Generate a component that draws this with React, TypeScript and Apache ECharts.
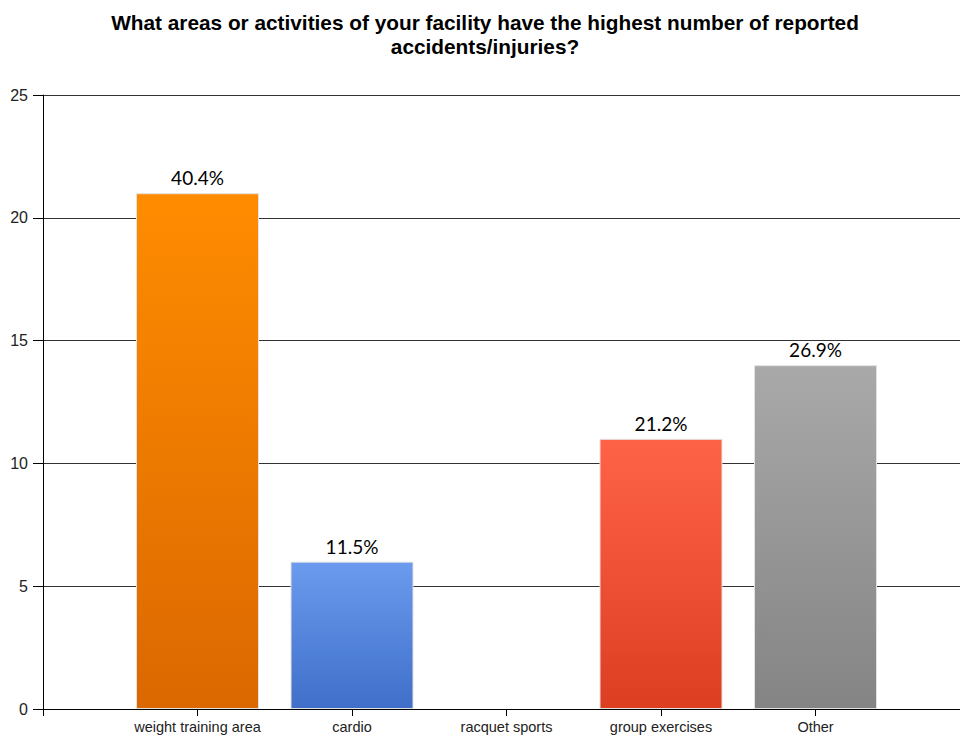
import React, { useEffect, useRef } from "react";
import * as echarts from "echarts";

const titleText =
  "What areas or activities of your facility have the highest number of reported\naccidents/injuries?";
const categories = ["", "weight training area", "cardio", "racquet sports", "group exercises", "Other", ""];
const counts = [null, 21, 6, 0, 11, 14, null];
const percentLabels = ["", "40.4%", "11.5%", "", "21.2%", "26.9%", ""];
const topColors = ["", "#FF8C00", "#6A9BEE", "#8F8F8F", "#FF6347", "#A9A9A9", ""];
const bottomColors = ["", "#DB6800", "#3F6FC9", "#707070", "#DC3E22", "#848484", ""];
const yTicks = [0, 5, 10, 15, 20, 25];

export default function App() {
  const ref = useRef<HTMLDivElement>(null);
  useEffect(() => {
    if (!ref.current) return;
    const chart = echarts.init(ref.current, null, { renderer: "svg" });
    const data = counts.map((v, i) =>
      v === null
        ? null
        : {
            value: v,
            itemStyle: {
              color: new echarts.graphic.LinearGradient(0, 0, 0, 1, [
                { offset: 0, color: topColors[i] },
                { offset: 1, color: bottomColors[i] },
              ]),
              borderWidth: v === 0 ? 0 : 1,
            },
            label: { show: percentLabels[i] !== "", formatter: percentLabels[i] },
          }
    );
    chart.setOption({
      animation: false,
      backgroundColor: "#ffffff",
      title: {
        text: titleText,
        left: 480,
        textAlign: "center",
        top: 5,
        textStyle: {
          fontFamily: "Liberation Sans, Arial, sans-serif",
          fontWeight: "bold",
          fontSize: 20.8,
          lineHeight: 24,
          color: "#000",
        },
      },
      grid: { left: 43, top: 95, height: 614, width: 927, containLabel: false },
      xAxis: {
        type: "category",
        data: categories,
        boundaryGap: false,
        axisLine: { show: true, lineStyle: { color: "#000", width: 1 } },
        axisTick: {
          show: true,
          length: 7,
          lineStyle: { color: "#000" },
          interval: (idx: number) => idx < categories.length - 1,
        },
        axisLabel: {
          interval: 0,
          margin: 10,
          fontFamily: "Liberation Sans, Arial, sans-serif",
          fontSize: 14.5,
          color: "#222",
        },
        splitLine: { show: false },
      },
      yAxis: {
        type: "value",
        min: yTicks[0],
        max: yTicks[yTicks.length - 1],
        interval: 5,
        axisLine: { show: true, lineStyle: { color: "#000", width: 1 } },
        axisTick: { show: true, length: 10, lineStyle: { color: "#000" } },
        axisLabel: {
          margin: 15,
          fontFamily: "Liberation Sans, Arial, sans-serif",
          fontSize: 16,
          color: "#222",
        },
        splitLine: { show: true, lineStyle: { color: "#333", width: 1 } },
      },
      series: [
        {
          type: "bar",
          data,
          barWidth: 123,
          itemStyle: { borderColor: "#e2e2e2", borderWidth: 1 },
          label: {
            show: true,
            position: "top",
            distance: 6,
            fontFamily: "Lato, sans-serif",
            fontSize: 19,
            color: "#000",
          },
        },
      ],
    });
    return () => chart.dispose();
  }, []);
  return (
    <div style={{ position: "absolute", left: 0, top: 0, width: 960, height: 737, overflow: "hidden" }}>
      <div ref={ref} style={{ width: 990, height: 737 }} />
    </div>
  );
}
